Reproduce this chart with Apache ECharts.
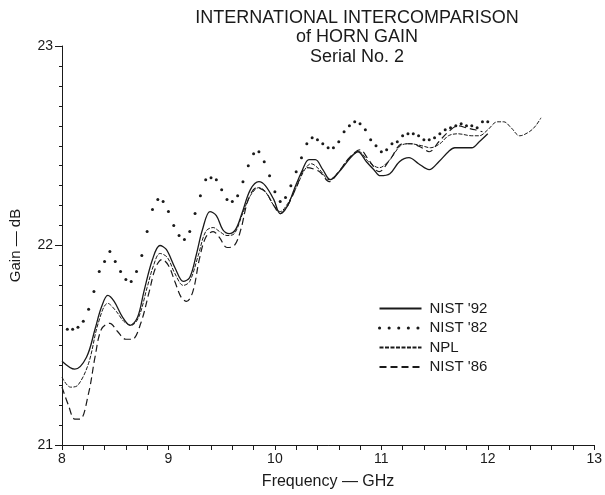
<!DOCTYPE html>
<html>
<head>
<meta charset="utf-8">
<script src="https://cdn.jsdelivr.net/npm/echarts@6/dist/echarts.min.js"></script>
<style>
  html, body { margin: 0; padding: 0; background: #fff; }
  #chart { width: 605px; height: 495px; }
</style>
</head>
<body>
<div id="chart"></div>
<script>
// frequency (GHz) and gain (dB)
const freqNist92 = [8.00, 8.12, 8.23, 8.31, 8.37, 8.43, 8.49, 8.57, 8.64, 8.71, 8.77, 8.85, 8.92, 8.98, 9.06, 9.14, 9.20, 9.26, 9.32, 9.39, 9.45, 9.51, 9.57, 9.63, 9.69, 9.77, 9.85, 9.91, 9.99, 10.05, 10.12, 10.18, 10.26, 10.32, 10.38, 10.45, 10.52, 10.62, 10.71, 10.78, 10.86, 10.93, 10.99, 11.08, 11.17, 11.26, 11.35, 11.45, 11.54, 11.63, 11.69, 11.77, 11.85, 11.92, 12.00];
const gainNist92 = [21.42, 21.38, 21.44, 21.58, 21.69, 21.75, 21.72, 21.64, 21.60, 21.64, 21.77, 21.93, 22.00, 21.98, 21.89, 21.82, 21.84, 21.95, 22.08, 22.17, 22.15, 22.08, 22.06, 22.08, 22.16, 22.28, 22.32, 22.30, 22.23, 22.16, 22.20, 22.28, 22.38, 22.43, 22.43, 22.38, 22.33, 22.38, 22.44, 22.47, 22.42, 22.38, 22.35, 22.36, 22.42, 22.44, 22.41, 22.38, 22.42, 22.47, 22.49, 22.49, 22.49, 22.52, 22.56];

const freqNist82 = [8.05, 8.10, 8.15, 8.20, 8.25, 8.30, 8.35, 8.40, 8.45, 8.50, 8.55, 8.60, 8.65, 8.70, 8.75, 8.80, 8.85, 8.90, 8.95, 9.00, 9.05, 9.10, 9.15, 9.20, 9.25, 9.30, 9.35, 9.40, 9.45, 9.50, 9.55, 9.60, 9.65, 9.70, 9.75, 9.80, 9.85, 9.90, 9.95, 10.00, 10.05, 10.10, 10.15, 10.20, 10.25, 10.30, 10.35, 10.40, 10.45, 10.50, 10.55, 10.60, 10.65, 10.70, 10.75, 10.80, 10.85, 10.90, 10.95, 11.00, 11.05, 11.10, 11.15, 11.20, 11.25, 11.30, 11.35, 11.40, 11.45, 11.50, 11.55, 11.60, 11.65, 11.70, 11.75, 11.80, 11.85, 11.90, 11.95, 12.00];
const gainNist82 = [21.58, 21.58, 21.59, 21.62, 21.68, 21.77, 21.87, 21.92, 21.97, 21.92, 21.87, 21.83, 21.82, 21.87, 21.95, 22.07, 22.18, 22.23, 22.22, 22.17, 22.10, 22.05, 22.03, 22.07, 22.16, 22.25, 22.33, 22.34, 22.33, 22.28, 22.23, 22.22, 22.25, 22.32, 22.40, 22.46, 22.47, 22.42, 22.35, 22.27, 22.22, 22.24, 22.30, 22.37, 22.44, 22.51, 22.54, 22.53, 22.51, 22.49, 22.49, 22.52, 22.57, 22.60, 22.62, 22.61, 22.58, 22.53, 22.50, 22.47, 22.48, 22.51, 22.52, 22.55, 22.56, 22.56, 22.55, 22.53, 22.53, 22.54, 22.56, 22.58, 22.59, 22.60, 22.61, 22.60, 22.60, 22.59, 22.62, 22.62];

const freqNpl = [8.00, 8.08, 8.15, 8.25, 8.34, 8.43, 8.51, 8.58, 8.65, 8.72, 8.80, 8.86, 8.92, 8.99, 9.06, 9.14, 9.20, 9.28, 9.35, 9.42, 9.48, 9.55, 9.62, 9.69, 9.77, 9.85, 9.91, 9.99, 10.05, 10.12, 10.20, 10.28, 10.34, 10.42, 10.51, 10.60, 10.70, 10.79, 10.88, 10.98, 11.08, 11.18, 11.27, 11.38, 11.46, 11.55, 11.63, 11.72, 11.85, 11.92, 12.00, 12.09, 12.15, 12.22, 12.30, 12.39, 12.45, 12.50];
const gainNpl = [21.34, 21.29, 21.30, 21.41, 21.61, 21.71, 21.67, 21.62, 21.60, 21.64, 21.79, 21.90, 21.96, 21.94, 21.86, 21.80, 21.82, 21.95, 22.07, 22.09, 22.07, 22.05, 22.06, 22.15, 22.25, 22.29, 22.27, 22.20, 22.17, 22.21, 22.29, 22.38, 22.41, 22.38, 22.33, 22.37, 22.44, 22.47, 22.42, 22.39, 22.43, 22.50, 22.51, 22.50, 22.49, 22.51, 22.55, 22.56, 22.55, 22.55, 22.58, 22.62, 22.62, 22.59, 22.55, 22.57, 22.60, 22.64];

const freqNist86 = [8.00, 8.06, 8.12, 8.17, 8.25, 8.31, 8.37, 8.45, 8.52, 8.60, 8.66, 8.74, 8.82, 8.88, 8.94, 9.00, 9.06, 9.12, 9.17, 9.23, 9.29, 9.35, 9.42, 9.48, 9.55, 9.62, 9.68, 9.75, 9.83, 9.91, 9.99, 10.05, 10.12, 10.20, 10.30, 10.42, 10.51, 10.60, 10.70, 10.80, 10.88, 10.98, 11.08, 11.20, 11.28, 11.38, 11.45, 11.54, 11.63, 11.72, 11.80, 11.88, 11.95];
const gainNist86 = [21.29, 21.20, 21.13, 21.13, 21.26, 21.44, 21.58, 21.61, 21.57, 21.53, 21.53, 21.61, 21.77, 21.89, 21.93, 21.90, 21.82, 21.74, 21.72, 21.77, 21.93, 22.04, 22.07, 22.04, 21.99, 22.00, 22.08, 22.23, 22.29, 22.27, 22.20, 22.16, 22.20, 22.29, 22.39, 22.37, 22.32, 22.37, 22.44, 22.48, 22.43, 22.37, 22.43, 22.51, 22.51, 22.49, 22.47, 22.52, 22.57, 22.60, 22.59, 22.58, 22.57];

const titleLines = ['INTERNATIONAL INTERCOMPARISON', 'of HORN GAIN', 'Serial No. 2'];

function pairs(xs, ys) {
  return xs.map((x, i) => [x, ys[i]]);
}

const ink = '#1a1a1a';
const font = 'Liberation Sans';
// hide the symbol that line series put in the middle of their legend icon
const noMark = { opacity: 0 };

var myChart = echarts.init(document.getElementById('chart'));

const option = {
  animation: false,
  backgroundColor: '#fff',
  textStyle: { fontFamily: font, color: ink },
  graphic: titleLines.map((t, i) => ({
    type: 'text',
    x: 357,
    y: 18 + i * 19.5,
    style: {
      text: t,
      font: '18px "Liberation Sans"',
      fill: ink,
      align: 'center',
      verticalAlign: 'middle'
    }
  })),
  grid: { left: 57, right: 7, top: 46, bottom: 41 },
  legend: {
    orient: 'vertical',
    left: 373,
    top: 296,
    itemWidth: 42,
    itemHeight: 14,
    itemGap: 4.5,
    selectedMode: false,
    textStyle: { fontSize: 15, color: ink, fontFamily: font, padding: [0, 0, 0, 3] },
    data: [
      { name: "NIST '92", itemStyle: noMark },
      {
        name: "NIST '82",
        lineStyle: { width: 3, type: [0.1, 9.5], cap: 'round', color: ink, opacity: 1 },
        itemStyle: noMark
      },
      { name: 'NPL', itemStyle: noMark },
      { name: "NIST '86", itemStyle: noMark }
    ]
  },
  xAxis: {
    type: 'value',
    min: 8,
    max: 13,
    interval: 1,
    name: 'Frequency — GHz',
    nameLocation: 'middle',
    nameGap: 29,
    nameTextStyle: { fontSize: 16, color: ink, fontFamily: font },
    axisLine: { lineStyle: { color: ink, width: 1 } },
    axisTick: { length: 5, lineStyle: { color: ink } },
    minorTick: { show: true, splitNumber: 5, length: 5, lineStyle: { color: ink } },
    axisLabel: { fontSize: 14, color: ink, margin: 7 },
    splitLine: { show: false }
  },
  yAxis: {
    type: 'value',
    min: 21,
    max: 23,
    interval: 1,
    name: 'Gain — dB',
    nameLocation: 'middle',
    nameGap: 39,
    nameTextStyle: { fontSize: 15, color: ink, fontFamily: font },
    axisLine: { show: true, lineStyle: { color: ink, width: 1 } },
    axisTick: { show: true, length: 7, lineStyle: { color: ink } },
    minorTick: { show: true, splitNumber: 10, length: 3, lineStyle: { color: ink } },
    axisLabel: { fontSize: 14, color: ink, margin: 9 },
    splitLine: { show: false }
  },
  series: [
    {
      name: "NIST '92",
      type: 'line',
      smooth: 0.35,
      symbol: 'none',
      lineStyle: { color: ink, width: 1.3 },
      itemStyle: { color: ink },
      data: pairs(freqNist92, gainNist92)
    },
    {
      name: "NIST '82",
      type: 'line',
      symbol: 'circle',
      symbolSize: 3,
      showSymbol: true,
      showAllSymbol: true,
      lineStyle: { width: 0, opacity: 0 },
      itemStyle: { color: ink },
      data: pairs(freqNist82, gainNist82)
    },
    {
      name: 'NPL',
      type: 'line',
      smooth: 0.35,
      symbol: 'none',
      lineStyle: { color: ink, width: 1, type: [4, 1.5] },
      itemStyle: { color: ink },
      data: pairs(freqNpl, gainNpl)
    },
    {
      name: "NIST '86",
      type: 'line',
      smooth: 0.35,
      symbol: 'none',
      lineStyle: { color: ink, width: 1.2, type: [7, 4] },
      itemStyle: { color: ink },
      data: pairs(freqNist86, gainNist86)
    }
  ]
};

myChart.setOption(option);
</script>
</body>
</html>
